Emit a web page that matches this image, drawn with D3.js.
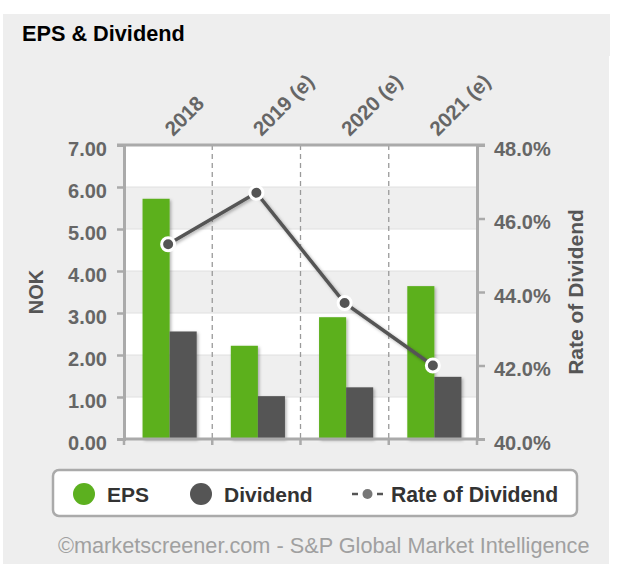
<!DOCTYPE html>
<html>
<head>
<meta charset="utf-8">
<script src="https://cdn.jsdelivr.net/npm/d3@7"></script>
<style>
  html, body { margin: 0; padding: 0; background: #ffffff; }
  svg { display: block; font-family: "Liberation Sans", Arial, Helvetica, sans-serif; }
</style>
</head>
<body>
<svg id="chart" width="624" height="574"></svg>
<script>
// ---- data ----
const categories = ["2018", "2019 (e)", "2020 (e)", "2021 (e)"];
const epsValues = [5.72, 2.22, 2.90, 3.64];
const dividendValues = [2.56, 1.02, 1.23, 1.48];
const rateValues = [45.3, 46.7, 43.7, 42.0];
const leftTicks = [0, 1, 2, 3, 4, 5, 6, 7];
const rightTicks = [40, 42, 44, 46, 48];
const seriesNames = ["EPS", "Dividend"];
const legendLabels = ["EPS", "Dividend", "Rate of Dividend"];

const colors = { EPS: "#5cb01f", Dividend: "#555555", rate: "#555555" };

const svg = d3.select("#chart");
const defs = svg.append("defs");
const sh = defs.append("filter").attr("id", "shadow")
  .attr("x", "-20%").attr("y", "-20%").attr("width", "150%").attr("height", "150%");
sh.append("feDropShadow").attr("dx", 1.5).attr("dy", 1.5).attr("stdDeviation", 1.5)
  .attr("flood-color", "#000").attr("flood-opacity", 0.3);

// background
svg.append("rect").attr("x", 3).attr("y", 14).attr("width", 606).attr("height", 550).attr("fill", "#eeeeee");
svg.append("rect").attr("x", 4).attr("y", 14).attr("width", 606).attr("height", 42).attr("fill", "#eeeeee");

svg.append("text").attr("x", 22).attr("y", 41)
  .attr("font-size", 21.7).attr("font-weight", "bold").attr("fill", "#000")
  .text("EPS & Dividend");

const pL = 124, pR = 477, pT = 145, pB = 439;

const x0 = d3.scaleBand().domain(categories).range([pL, pR]).padding(0);
const x1 = d3.scaleBand().domain(seriesNames).range([0, x0.bandwidth()]).paddingInner(0).paddingOuter(0.63);
const y = d3.scaleLinear().domain([0, 7]).range([pB, pT]);
const yR = d3.scaleLinear().domain([40, 48]).range([pB, pT]);

// plot background bands
const plot = svg.append("g");
plot.append("rect").attr("x", pL).attr("y", pT).attr("width", pR - pL).attr("height", pB - pT).attr("fill", "#ffffff");
const bandIdx = d3.range(0, 7);
plot.selectAll("rect.band").data(bandIdx.filter(i => i % 2 === 1)).join("rect")
  .attr("class", "band")
  .attr("x", pL).attr("width", pR - pL)
  .attr("y", i => y(i + 1)).attr("height", i => y(i) - y(i + 1))
  .attr("fill", "#efefef");
plot.selectAll("line.grid").data(leftTicks.slice(1, -1)).join("line")
  .attr("class", "grid")
  .attr("x1", pL).attr("x2", pR)
  .attr("y1", d => y(d)).attr("y2", d => y(d))
  .attr("stroke", "#e0e0e0").attr("stroke-width", 1);

// dashed category separators
plot.selectAll("line.sep").data(categories.slice(1)).join("line")
  .attr("class", "sep")
  .attr("x1", d => x0(d)).attr("x2", d => x0(d))
  .attr("y1", pT).attr("y2", pB)
  .attr("stroke", "#9a9a9a").attr("stroke-width", 1.3).attr("stroke-dasharray", "5,4");

// bars
const barData = [];
categories.forEach((c, i) => {
  barData.push({ c, s: "EPS", v: epsValues[i] });
  barData.push({ c, s: "Dividend", v: dividendValues[i] });
});
svg.append("g").attr("filter", "url(#shadow)")
  .selectAll("rect").data(barData).join("rect")
  .attr("x", d => x0(d.c) + x1(d.s) + 1.5)
  .attr("width", x1.bandwidth())
  .attr("y", d => y(d.v))
  .attr("height", d => y(0) - y(d.v))
  .attr("fill", d => colors[d.s]);

// axes
const axisColor = "#aaaaaa";
const gL = svg.append("g").attr("transform", `translate(${pL},0)`)
  .call(d3.axisLeft(y).tickValues(leftTicks).tickFormat(d3.format(".2f")).tickSize(7).tickPadding(10));
const gR = svg.append("g").attr("transform", `translate(${pR},0)`)
  .call(d3.axisRight(yR).tickValues(rightTicks).tickFormat(d => d.toFixed(1) + "%").tickSize(8).tickPadding(9));
const gB = svg.append("g").attr("transform", `translate(0,${pB})`)
  .call(d3.axisBottom(x0).tickSize(0).tickFormat(""));
const gT = svg.append("g").attr("transform", `translate(0,${pT})`)
  .call(d3.axisTop(x0).tickSize(0).tickFormat(""));
[gL, gR, gB, gT].forEach(g => {
  g.select(".domain").attr("stroke", axisColor).attr("stroke-width", 3);
  g.selectAll(".tick line").attr("stroke", axisColor).attr("stroke-width", 2.5);
  g.selectAll(".tick text").attr("fill", "#666666").attr("font-size", 20).attr("font-weight", "bold")
    .attr("font-family", "'Liberation Sans', Arial, sans-serif");
});
gL.selectAll(".tick text").attr("dy", "0.5em");
gR.selectAll(".tick text").attr("dy", "0.5em");
gB.select(".domain").attr("d", `M${pL},0H${pR}`);
gT.select(".domain").attr("d", `M${pL - 7},0H${pR + 8}`);

// bottom boundary ticks
const boundaries = categories.map(c => x0(c)).concat([pR]);
svg.append("g").selectAll("line").data(boundaries).join("line")
  .attr("x1", d => d).attr("x2", d => d)
  .attr("y1", pB).attr("y2", pB + 6)
  .attr("stroke", axisColor).attr("stroke-width", 2.5);

// x labels rotated
svg.append("g").selectAll("text").data(categories).join("text")
  .attr("transform", d => `translate(${x0(d) + x0.bandwidth() / 2 + 5},137) rotate(-45)`)
  .attr("font-size", 20.5).attr("font-weight", "bold").attr("fill", "#666666")
  .text(d => d);

// axis titles
svg.append("text").attr("transform", `translate(43,292) rotate(-90)`)
  .attr("text-anchor", "middle").attr("font-size", 20).attr("font-weight", "bold").attr("fill", "#555555")
  .text("NOK");
svg.append("text").attr("transform", `translate(583,292) rotate(-90)`)
  .attr("text-anchor", "middle").attr("font-size", 21).attr("font-weight", "bold").attr("fill", "#555555")
  .text("Rate of Dividend");

// rate line
const cx = c => x0(c) + x0.bandwidth() / 2;
const lineData = categories.map((c, i) => ({ c, v: rateValues[i] }));
svg.append("path").datum(lineData)
  .attr("d", d3.line().x(d => cx(d.c)).y(d => yR(d.v)))
  .attr("fill", "none").attr("stroke", colors.rate).attr("stroke-width", 3.5)
  .attr("filter", "url(#shadow)");
svg.append("g").selectAll("circle").data(lineData).join("circle")
  .attr("cx", d => cx(d.c)).attr("cy", d => yR(d.v)).attr("r", 6.5)
  .attr("fill", colors.rate).attr("stroke", "#ffffff").attr("stroke-width", 3);

// legend
const lg = svg.append("g");
lg.append("rect").attr("x", 53).attr("y", 470).attr("width", 524).attr("height", 46).attr("rx", 6)
  .attr("fill", "#ffffff").attr("stroke", "#aaaaaa").attr("stroke-width", 2.5);
const legY = 494;
lg.append("circle").attr("cx", 84).attr("cy", legY).attr("r", 11).attr("fill", colors.EPS);
lg.append("text").attr("x", 107).attr("y", legY + 8).attr("font-size", 21).attr("font-weight", "bold").attr("fill", "#333").text(legendLabels[0]);
lg.append("circle").attr("cx", 201).attr("cy", legY).attr("r", 11).attr("fill", colors.Dividend);
lg.append("text").attr("x", 224).attr("y", legY + 8).attr("font-size", 21).attr("font-weight", "bold").attr("fill", "#333").text(legendLabels[1]);
lg.append("line").attr("x1", 352).attr("x2", 358).attr("y1", legY).attr("y2", legY).attr("stroke", "#555").attr("stroke-width", 2.5);
lg.append("line").attr("x1", 377).attr("x2", 383).attr("y1", legY).attr("y2", legY).attr("stroke", "#555").attr("stroke-width", 2.5);
lg.append("circle").attr("cx", 367.5).attr("cy", legY).attr("r", 5).attr("fill", "#777");
lg.append("text").attr("x", 391).attr("y", legY + 8).attr("font-size", 21.2).attr("font-weight", "bold").attr("fill", "#333").text(legendLabels[2]);

// footer
svg.append("text").attr("x", 58).attr("y", 553).attr("font-size", 21.7).attr("fill", "#a0a0a0")
  .text("©marketscreener.com - S&P Global Market Intelligence");
</script>
</body>
</html>
